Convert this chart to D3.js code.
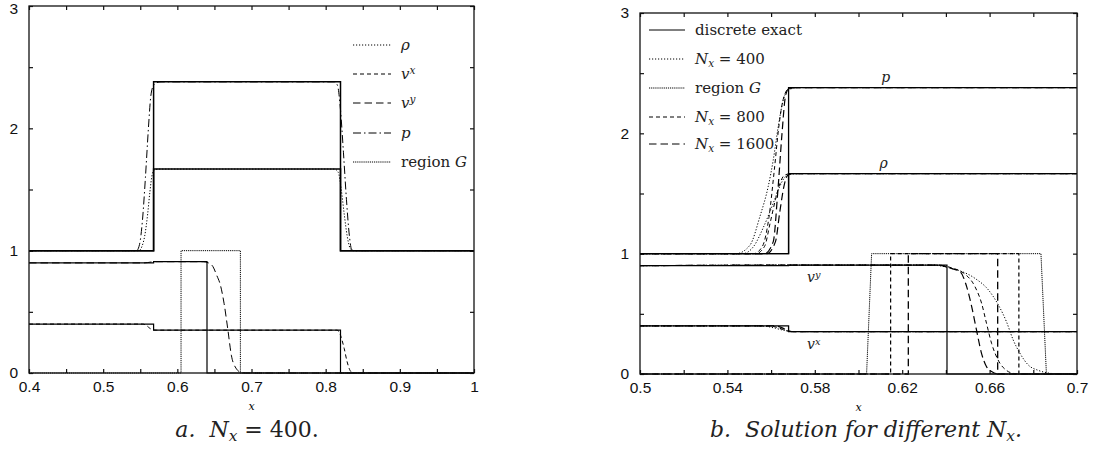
<!DOCTYPE html>
<html>
<head>
<meta charset="utf-8">
<script src="https://cdn.jsdelivr.net/npm/d3@7"></script>
<style>
body { margin: 0; background: #fff; }
svg { display: block; }
</style>
</head>
<body>
<svg id="chart" width="1093" height="454"></svg>
<script>
// ---- panel a: N_x = 400 ----
const xTicksA = [0.4, 0.45, 0.5, 0.55, 0.6, 0.65, 0.7, 0.75, 0.8, 0.85, 0.9, 0.95, 1];
const xLabelsA = ['0.4', '', '0.5', '', '0.6', '', '0.7', '', '0.8', '', '0.9', '', '1'];
const yTicks = [0, 0.5, 1, 1.5, 2, 2.5, 3];
const yLabels = ['0', '', '1', '', '2', '', '3'];

const exactRhoA = [[0.4, 1], [0.568, 1], [0.568, 1.667], [0.82, 1.667], [0.82, 1], [1, 1]];
const exactPA = [[0.4, 1], [0.568, 1], [0.568, 2.38], [0.82, 2.38], [0.82, 1], [1, 1]];
const exactVyA = [[0.4, 0.9], [0.568, 0.9], [0.568, 0.91], [0.64, 0.91], [0.64, 0], [1, 0]];
const exactVxA = [[0.4, 0.4], [0.568, 0.4], [0.568, 0.35], [0.82, 0.35], [0.82, 0], [1, 0]];

const rhoA = [[0.4, 1], [0.548, 1], [0.552, 1.03], [0.556, 1.12], [0.56, 1.3], [0.563, 1.48], [0.566, 1.62], [0.569, 1.66], [0.575, 1.667],
  [0.812, 1.667], [0.817, 1.64], [0.821, 1.5], [0.825, 1.3], [0.829, 1.12], [0.833, 1.02], [0.837, 1], [1, 1]];
const pA = [[0.4, 1], [0.545, 1], [0.549, 1.05], [0.553, 1.25], [0.557, 1.6], [0.561, 2.0], [0.564, 2.25], [0.567, 2.34], [0.571, 2.37], [0.578, 2.38],
  [0.812, 2.38], [0.816, 2.35], [0.82, 2.15], [0.824, 1.8], [0.828, 1.42], [0.832, 1.12], [0.835, 1.01], [0.838, 1], [1, 1]];
const vyA = [[0.4, 0.9], [0.555, 0.9], [0.57, 0.91], [0.635, 0.91], [0.642, 0.9], [0.648, 0.87], [0.653, 0.8], [0.658, 0.72], [0.663, 0.57],
  [0.668, 0.36], [0.673, 0.14], [0.679, 0.04], [0.686, 0.005], [0.692, 0], [1, 0]];
const vxA = [[0.4, 0.4], [0.553, 0.4], [0.558, 0.39], [0.563, 0.365], [0.567, 0.352], [0.572, 0.35], [0.815, 0.35], [0.818, 0.34], [0.821, 0.29],
  [0.825, 0.2], [0.829, 0.09], [0.833, 0.02], [0.837, 0], [1, 0]];
const regionA = [[0.4, 0], [0.605, 0], [0.605, 1], [0.685, 1], [0.685, 0], [1, 0]];

// ---- panel b: different N_x ----
const xTicksB = [0.5, 0.52, 0.54, 0.56, 0.58, 0.6, 0.62, 0.64, 0.66, 0.68, 0.7];
const xLabelsB = ['0.5', '', '0.54', '', '0.58', '', '0.62', '', '0.66', '', '0.7'];

const exactRhoB = [[0.5, 1], [0.568, 1], [0.568, 1.665], [0.7, 1.665]];
const exactPB = [[0.5, 1], [0.568, 1], [0.568, 2.38], [0.7, 2.38]];
const exactVyB = [[0.5, 0.9], [0.568, 0.9], [0.568, 0.905], [0.6405, 0.905], [0.6405, 0], [0.7, 0]];
const exactVxB = [[0.5, 0.4], [0.568, 0.4], [0.568, 0.352], [0.7, 0.352]];

const rho400 = [[0.5, 1], [0.547, 1], [0.552, 1.06], [0.5565, 1.22], [0.561, 1.42], [0.564, 1.56], [0.5665, 1.64], [0.569, 1.66], [0.574, 1.665], [0.7, 1.665]];
const p400 = [[0.5, 1], [0.544, 1], [0.5503, 1.07], [0.5549, 1.31], [0.5587, 1.56], [0.561, 1.78], [0.5633, 2.06], [0.5656, 2.28], [0.568, 2.36], [0.572, 2.38], [0.7, 2.38]];
const vy400 = [[0.5, 0.9], [0.568, 0.905], [0.633, 0.905], [0.642, 0.88], [0.6533, 0.795], [0.6594, 0.7], [0.664, 0.574], [0.6677, 0.435], [0.6708, 0.283],
  [0.6739, 0.172], [0.6777, 0.075], [0.6823, 0.03], [0.687, 0.008], [0.692, 0], [0.7, 0]];
const vx400 = [[0.5, 0.4], [0.553, 0.4], [0.558, 0.395], [0.562, 0.38], [0.566, 0.362], [0.57, 0.353], [0.575, 0.352], [0.7, 0.352]];
const region400 = [[0.5, 0], [0.6037, 0], [0.606, 1], [0.6835, 1], [0.686, 0], [0.7, 0]];

const rho800 = [[0.5, 1], [0.553, 1], [0.557, 1.06], [0.5595, 1.25], [0.562, 1.45], [0.564, 1.58], [0.566, 1.65], [0.569, 1.665], [0.7, 1.665]];
const p800 = [[0.5, 1], [0.552, 1], [0.556, 1.06], [0.559, 1.3], [0.5615, 1.7], [0.5635, 2.05], [0.5655, 2.28], [0.568, 2.37], [0.572, 2.38], [0.7, 2.38]];
const vy800 = [[0.5, 0.9], [0.568, 0.905], [0.636, 0.905], [0.643, 0.88], [0.648, 0.84], [0.6533, 0.726], [0.6563, 0.59], [0.6586, 0.42], [0.6609, 0.255],
  [0.6639, 0.116], [0.6677, 0.03], [0.6716, 0.003], [0.675, 0], [0.7, 0]];
const vx800 = [[0.5, 0.4], [0.557, 0.4], [0.561, 0.395], [0.564, 0.38], [0.567, 0.36], [0.57, 0.352], [0.7, 0.352]];
const region800 = [[0.5, 0], [0.6147, 0], [0.6147, 1], [0.6734, 1], [0.6734, 0], [0.7, 0]];

const rho1600 = [[0.5, 1], [0.558, 1], [0.562, 1.1], [0.564, 1.35], [0.566, 1.57], [0.5675, 1.65], [0.57, 1.665], [0.7, 1.665]];
const p1600 = [[0.5, 1], [0.557, 1], [0.561, 1.1], [0.563, 1.5], [0.565, 2.0], [0.5665, 2.3], [0.568, 2.37], [0.571, 2.38], [0.7, 2.38]];
const vy1600 = [[0.5, 0.9], [0.568, 0.905], [0.636, 0.905], [0.6419, 0.88], [0.6465, 0.85], [0.6495, 0.726], [0.6518, 0.56], [0.654, 0.366], [0.6563, 0.172],
  [0.6586, 0.06], [0.6609, 0.02], [0.664, 0], [0.7, 0]];
const vx1600 = [[0.5, 0.4], [0.56, 0.4], [0.564, 0.392], [0.566, 0.375], [0.568, 0.357], [0.571, 0.352], [0.7, 0.352]];
const region1600 = [[0.5, 0], [0.6228, 0], [0.6228, 1], [0.6637, 1], [0.6637, 0], [0.7, 0]];

// line styles
const DOT = '1.2,1.8', DENSE = '1.2,0.9', SHORT = '4,3', LONG = '7.5,4', DASHDOT = '8,3,1.5,3';

const svg = d3.select('#chart');
const serif = '"DejaVu Serif", serif';

function drawPanel(o) {
	const x = d3.scaleLinear().domain(o.xDomain).range([o.left, o.right]);
	const y = d3.scaleLinear().domain([0, 3]).range([o.bottom, o.top]);
	const g = svg.append('g');

	// axes, gnuplot style ticks pointing inward
	const axes = [
		[d3.axisBottom(x).tickValues(o.xTicks).tickFormat((d, i) => o.xLabels[i]).tickPadding(8), o.bottom, 0],
		[d3.axisTop(x).tickValues(o.xTicks).tickFormat(''), o.top, 0],
		[d3.axisLeft(y).tickValues(yTicks).tickFormat((d, i) => yLabels[i]).tickPadding(11), 0, o.left],
		[d3.axisRight(y).tickValues(yTicks).tickFormat(''), 0, o.right]
	];
	axes.forEach(a => {
		const ag = g.append('g')
			.attr('transform', 'translate(' + a[2] + ',' + a[1] + ')')
			.call(a[0].tickSize(-4));
		ag.select('.domain').remove();
		ag.selectAll('line').attr('stroke', '#111').attr('stroke-width', 1.2);
		ag.selectAll('text')
			.style('font-family', '"Liberation Sans", Arial, sans-serif')
			.style('font-size', '15.5px')
			.attr('fill', '#111');
	});
	// keep the top label inside the page
	g.selectAll('.tick text').filter(function () { return this.getBoundingClientRect().top < 1; })
		.attr('dy', '0.5em');

	const line = d3.line().x(d => x(d[0])).y(d => y(d[1]));
	const smooth = d3.line().x(d => x(d[0])).y(d => y(d[1])).curve(d3.curveMonotoneX);

	const plot = g.append('g');
	o.series.forEach(s => {
		plot.append('path')
			.attr('d', (s.step ? line : smooth)(s.data))
			.attr('fill', 'none')
			.attr('stroke', '#000')
			.attr('stroke-width', s.w || 1)
			.attr('stroke-dasharray', s.dash || null);
	});

	// frame
	g.append('rect')
		.attr('x', o.left).attr('y', o.top)
		.attr('width', o.right - o.left).attr('height', o.bottom - o.top)
		.attr('fill', 'none').attr('stroke', '#111').attr('stroke-width', 1.3);

	// legend
	const leg = g.selectAll('g.legendItem')
		.data(o.legend)
		.join('g')
		.classed('legendItem', true)
		.attr('transform', (d, i) => 'translate(' + o.legX + ',' + o.legY[i] + ')');
	leg.append('line')
		.attr('x1', 0).attr('x2', o.legLen)
		.attr('stroke', '#000').attr('stroke-width', 1)
		.attr('stroke-dasharray', d => d.dash || null);
	leg.append('text')
		.attr('x', o.legLen + 10).attr('y', 5)
		.style('font-family', serif).style('font-size', '15px').attr('fill', '#222')
		.each(function (d) { writeLabel(d3.select(this), d.label); });

	// axis label
	g.append('text')
		.attr('x', (o.left + o.right) / 2).attr('y', o.bottom + 37)
		.attr('text-anchor', 'middle')
		.style('font-family', serif).style('font-style', 'italic').style('font-size', '11px')
		.text('x');

	return {x, y, g};
}

// label pieces: [text, italic, 'sup'|'sub'|undefined]
function writeLabel(t, parts) {
	parts.forEach(p => {
		const ts = t.append('tspan').text(p[0]);
		if (p[1]) ts.style('font-style', 'italic');
		if (p[2] === 'sup') ts.attr('baseline-shift', '45%').style('font-size', '70%');
		if (p[2] === 'sub') ts.attr('baseline-shift', '-25%').style('font-size', '70%');
	});
}

drawPanel({
	xDomain: [0.4, 1], left: 29, right: 474, top: 6, bottom: 373,
	xTicks: xTicksA, xLabels: xLabelsA,
	series: [
		{data: exactRhoA, step: true, w: 1.5},
		{data: exactPA, step: true, w: 1.5},
		{data: exactVyA, step: true, w: 1.2},
		{data: exactVxA, step: true, w: 1.2},
		{data: regionA, step: true, dash: DENSE},
		{data: rhoA, dash: DOT},
		{data: pA, dash: DASHDOT},
		{data: vyA, dash: LONG},
		{data: vxA, dash: SHORT}
	],
	legX: 353, legLen: 38, legY: [45, 74, 103, 133, 162],
	legend: [
		{label: [['ρ', true]], dash: DOT},
		{label: [['v', true], ['x', true, 'sup']], dash: SHORT},
		{label: [['v', true], ['y', true, 'sup']], dash: LONG},
		{label: [['p', true]], dash: DASHDOT},
		{label: [['region '], ['G', true]], dash: DENSE}
	]
});

const pb = drawPanel({
	xDomain: [0.5, 0.7], left: 640, right: 1077, top: 13, bottom: 374,
	xTicks: xTicksB, xLabels: xLabelsB,
	series: [
		{data: exactRhoB, step: true, w: 1.3},
		{data: exactPB, step: true, w: 1.3},
		{data: exactVyB, step: true, w: 1.2},
		{data: exactVxB, step: true, w: 1.3},
		{data: region400, step: true, dash: DENSE},
		{data: region800, step: true, dash: SHORT, w: 1.2},
		{data: region1600, step: true, dash: LONG, w: 1.3},
		{data: rho400, dash: DOT},
		{data: p400, dash: DOT},
		{data: vy400, dash: DOT},
		{data: vx400, dash: DOT},
		{data: rho800, dash: SHORT},
		{data: p800, dash: SHORT},
		{data: vy800, dash: SHORT},
		{data: vx800, dash: SHORT},
		{data: rho1600, dash: LONG, w: 1.2},
		{data: p1600, dash: LONG, w: 1.2},
		{data: vy1600, dash: LONG, w: 1.2},
		{data: vx1600, dash: LONG, w: 1.2}
	],
	legX: 649, legLen: 36, legY: [30, 59, 88, 117, 144],
	legend: [
		{label: [['discrete exact']]},
		{label: [['N', true], ['x', true, 'sub'], [' = 400']], dash: DOT},
		{label: [['region '], ['G', true]], dash: DENSE},
		{label: [['N', true], ['x', true, 'sub'], [' = 800']], dash: SHORT},
		{label: [['N', true], ['x', true, 'sub'], [' = 1600']], dash: LONG}
	]
});

// curve names in panel b
const curveNames = [
	{label: [['p', true]], at: [0.6125, 2.38], dy: -6},
	{label: [['ρ', true]], at: [0.6115, 1.665], dy: -6},
	{label: [['v', true], ['y', true, 'sup']], at: [0.5795, 0.9], dy: 16},
	{label: [['v', true], ['x', true, 'sup']], at: [0.5795, 0.352], dy: 17}
];
pb.g.selectAll('text.curveName')
	.data(curveNames)
	.join('text')
	.classed('curveName', true)
	.attr('x', d => pb.x(d.at[0]))
	.attr('y', d => pb.y(d.at[1]) + d.dy)
	.attr('text-anchor', 'middle')
	.style('font-family', serif).style('font-size', '14px').attr('fill', '#222')
	.each(function (d) { writeLabel(d3.select(this), d.label); });

// captions
const captions = [
	{x: 247, parts: [['a.', true], ['  '], ['N', true], ['x', true, 'sub'], [' = 400.']]},
	{x: 866, parts: [['b.  Solution for different ', true], ['N', true], ['x', true, 'sub'], ['.', true]]}
];
svg.selectAll('text.caption')
	.data(captions)
	.join('text')
	.classed('caption', true)
	.attr('x', d => d.x).attr('y', 437)
	.attr('text-anchor', 'middle')
	.attr('xml:space', 'preserve')
	.style('font-family', serif).style('font-size', '22px').attr('fill', '#222')
	.each(function (d) { writeLabel(d3.select(this), d.parts); });
</script>
</body>
</html>
